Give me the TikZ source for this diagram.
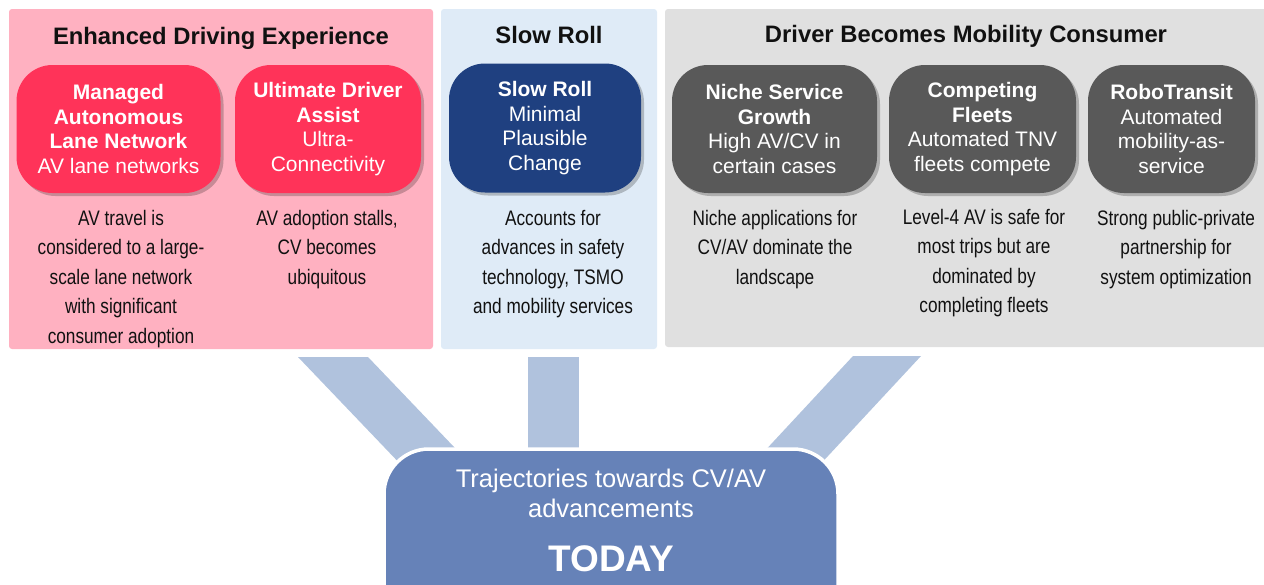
\documentclass[tikz,border=0pt]{standalone}
\usepackage{fontspec}
\setmainfont{Liberation Sans}
\newfontfamily\narrowfont{Liberation Sans}[FakeStretch=0.82]
\usetikzlibrary{shadows}
\definecolor{pinkpanel}{HTML}{FFB1C1}
\definecolor{bluepanel}{HTML}{DFEBF7}
\definecolor{graypanel}{HTML}{E0E0E0}
\definecolor{redcard}{HTML}{FF3359}
\definecolor{bluecard}{HTML}{1F4080}
\definecolor{graycard}{HTML}{595959}
\definecolor{arrowblue}{HTML}{B0C2DD}
\definecolor{todayblue}{HTML}{6682B8}
\definecolor{txt}{HTML}{111111}
\tikzset{
  panel/.style={rounded corners=3pt, inner sep=0pt, draw=none},
  card/.style={rounded corners=36pt, align=center, text=white, inner sep=0pt,
    font=\fontsize{21}{24.5}\selectfont,
    drop shadow={shadow xshift=3pt, shadow yshift=-3pt, opacity=0.22, fill=black}},
  desc/.style={align=center, text=txt, anchor=north, inner sep=0pt,
    font=\narrowfont\fontsize{21}{29.5}\selectfont},
  paneltitle/.style={text=txt, inner sep=0pt, anchor=base, font=\bfseries\fontsize{23.8}{27}\selectfont},
  band/.style={fill=arrowblue},
  todaytext/.style={text=white, inner sep=0pt, anchor=base}
}
\begin{document}
\begin{tikzpicture}[x=1pt,y=-1pt]
\useasboundingbox (0,0) rectangle (1264,584);

% panels
\node[panel, fill=pinkpanel, minimum width=424pt, minimum height=340pt] (p1) at (221,179) {};
\node[panel, fill=bluepanel, minimum width=216pt, minimum height=340pt] (p2) at (549,179) {};
\node[panel, fill=graypanel, minimum width=605pt, minimum height=338pt] (p3) at (967.5,178) {};

% panel titles
\node[paneltitle] (t1) at (221,44) {Enhanced Driving Experience};
\node[paneltitle] (t2) at (549,43) {Slow Roll};
\node[paneltitle] (t3) at (966,42) {Driver Becomes Mobility Consumer};

% cards
\node[card, fill=redcard, minimum width=204pt, minimum height=128pt] (c1) at (118.5,129)
  {\textbf{Managed}\\\textbf{Autonomous}\\\textbf{Lane Network}\\AV lane networks};
\node[card, fill=redcard, minimum width=186pt, minimum height=128pt] (c2) at (328,129)
  {\textbf{Ultimate Driver}\\\textbf{Assist}\\Ultra-\\Connectivity};
\node[card, fill=bluecard, minimum width=192pt, minimum height=129pt] (c3) at (545,128)
  {\textbf{Slow Roll}\\Minimal\\Plausible\\Change};
\node[card, fill=graycard, minimum width=205pt, minimum height=128pt] (c4) at (774.5,129)
  {\textbf{Niche Service}\\\textbf{Growth}\\High AV/CV in\\certain cases};
\node[card, fill=graycard, minimum width=187pt, minimum height=128pt] (c5) at (982.5,129)
  {\textbf{Competing}\\\textbf{Fleets}\\Automated TNV\\fleets compete};
\node[card, fill=graycard, minimum width=167pt, minimum height=128pt] (c6) at (1171.5,129)
  {\textbf{RoboTransit}\\Automated\\mobility-as-\\service};

% descriptions
\node[desc] (d1) at (121,210) {AV travel is\\considered to a large-\\scale lane network\\with significant\\consumer adoption};
\node[desc] (d2) at (327,210) {AV adoption stalls,\\CV becomes\\ubiquitous};
\node[desc] (d3) at (553,210) {Accounts for\\advances in safety\\technology, TSMO\\and mobility services};
\node[desc] (d4) at (775,210) {Niche applications for\\CV/AV dominate the\\landscape};
\node[desc] (d5) at (984,209) {Level-4 AV is safe for\\most trips but are\\dominated by\\completing fleets};
\node[desc] (d6) at (1176,210) {Strong public-private\\partnership for\\system optimization};

% bands towards TODAY
\coordinate (a1) at (298,357); \coordinate (a2) at (368,357);
\coordinate (a3) at (476,470); \coordinate (a4) at (406,470);
\fill[band] (a1) -- (a2) -- (a3) -- (a4) -- cycle;
\coordinate (b1) at (528,357); \coordinate (b2) at (579,357);
\coordinate (b3) at (579,470); \coordinate (b4) at (528,470);
\fill[band] (b1) -- (b2) -- (b3) -- (b4) -- cycle;
\coordinate (r1) at (853,356); \coordinate (r2) at (921,356);
\coordinate (r3) at (815,470); \coordinate (r4) at (747,470);
\fill[band] (r1) -- (r2) -- (r3) -- (r4) -- cycle;

% TODAY box
\node[fill=todayblue, draw=white, line width=3.5pt, rounded corners=45pt,
  minimum width=454pt, minimum height=191pt, inner sep=0pt] (today) at (611,544.5) {};
\node[todaytext, font=\fontsize{25.5}{30}\selectfont] (l1) at (611,487) {Trajectories towards CV/AV};
\node[todaytext, font=\fontsize{25.5}{30}\selectfont] (l2) at (611,517) {advancements};
\node[todaytext, font=\bfseries\fontsize{37}{40}\selectfont] (l3) at (611,571.5) {TODAY};
\end{tikzpicture}
\end{document}
